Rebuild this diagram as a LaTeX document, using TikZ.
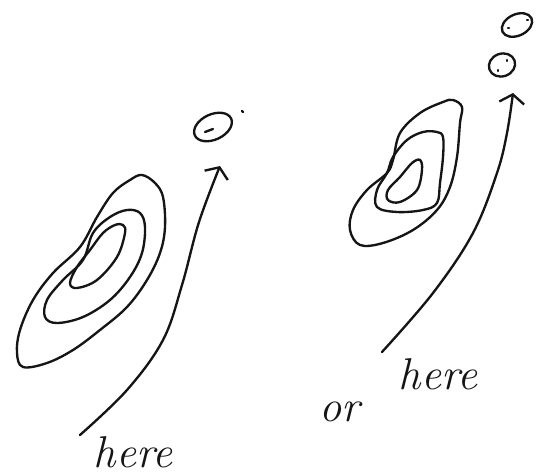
\documentclass[tikz,border=0pt]{standalone}
\usetikzlibrary{arrows.meta}
\definecolor{SkInk}{HTML}{151515}

\begin{document}
\begin{tikzpicture}[x=0.03cm,y=-0.03cm,line width=2pt,line join=round,line cap=round]
\path[use as bounding box,fill=white] (0,0) rectangle (546,475);
\tikzset{sketch/.style={SkInk,line width=2pt},
  hand/.style={SkInk,font=\fontsize{38}{38}\selectfont\itshape,inner sep=0pt},
  uparrow/.style={sketch,-{Straight Barb[length=2.6mm,width=7.5mm,line width=2pt]}}}
% left sketch: three contours
\draw[sketch] plot[smooth cycle,tension=0.6] coordinates {(142,175) (155,183) (163,197) (165,227) (160,253) (147,280) (127,307) (100,330) (73,350) (47,363) (23,367) (17,353) (20,330) (33,300) (53,273) (80,247) (97,217) (113,193) (130,180)};
\draw[sketch] plot[smooth cycle,tension=0.6] coordinates {(127,210) (140,213) (145,227) (142,253) (130,277) (110,300) (83,317) (57,323) (45,317) (47,300) (63,280) (83,260) (93,233) (110,217)};
\draw[sketch] plot[smooth cycle,tension=0.6] coordinates {(123,225) (125,233) (117,257) (97,280) (77,288) (70,283) (77,267) (90,250) (103,233) (115,225)};
\draw[sketch,rotate around={25:(213,127)}] (213,127) ellipse (0.6cm and 0.38cm);
\draw[sketch] (205,132) -- (213,129);
\draw[sketch] (242,111) -- (243,112);
\coordinate (startL) at (80,435);
\coordinate (tipL) at (220,166);
\draw[uparrow] plot[smooth,tension=0.6] coordinates {(startL) (127,390) (163,340) (182,285) (199,222) (tipL)};
\node[hand] (hereL) at (133,452) {here};
% right sketch: three contours
\draw[sketch] plot[smooth cycle,tension=0.6] coordinates {(453,100) (462,107) (460,123) (457,157) (450,187) (437,210) (413,230) (383,243) (360,245) (350,230) (353,210) (367,190) (387,173) (393,160) (400,133) (420,113) (443,102)};
\draw[sketch] plot[smooth cycle,tension=0.6] coordinates {(437,132) (443,137) (443,157) (440,183) (437,203) (423,210) (397,212) (377,207) (377,190) (387,173) (393,157) (407,140) (423,132)};
\draw[sketch] plot[smooth cycle,tension=0.6] coordinates {(420,160) (422,170) (417,190) (400,202) (388,200) (388,190) (400,177) (412,163)};
\draw[sketch,rotate around={25:(517,25)}] (517,25) ellipse (0.48cm and 0.32cm);
\draw[sketch] (508,28) -- (509,28);
\draw[sketch] (527,20) -- (528,20);
\draw[sketch,rotate around={20:(502,65)}] (502,65) ellipse (0.4cm and 0.34cm);
\draw[sketch] (498,70) -- (498,71);
\draw[sketch] (507,60) -- (507,61);
\coordinate (startR) at (382,352);
\coordinate (tipR) at (513,93);
\draw[uparrow] plot[smooth,tension=0.6] coordinates {(startR) (433,293) (473,233) (497,173) (507,133) (tipR)};
\node[hand] (hereR) at (438,374) {here};
\node[hand] (orR) at (340,412) {or};
\end{tikzpicture}
\end{document}
